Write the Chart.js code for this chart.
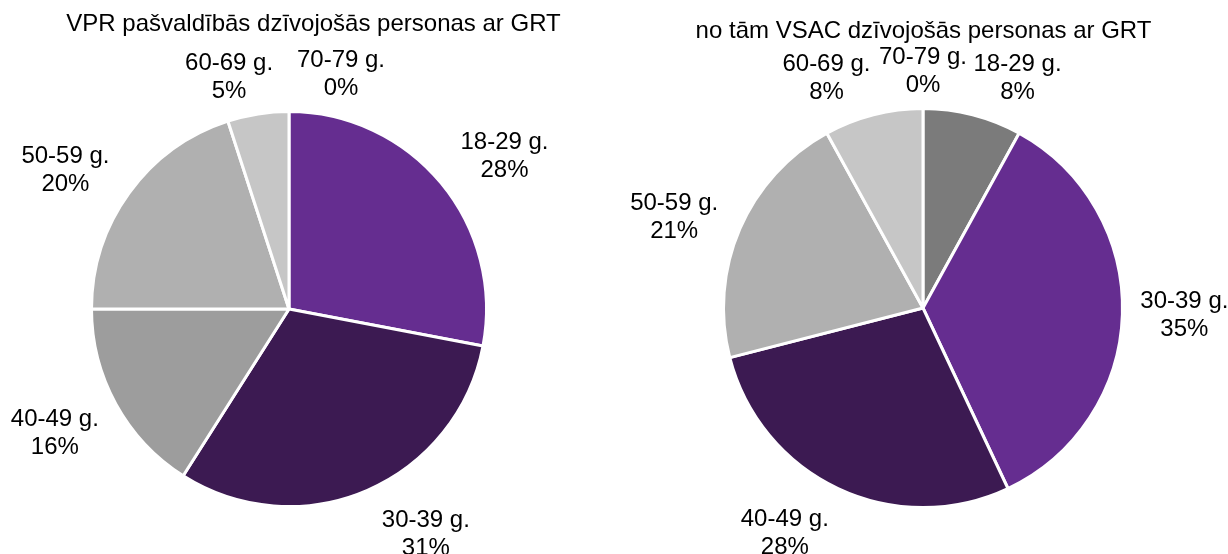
<!DOCTYPE html>
<html>
<head>
<meta charset="utf-8">
<title>GRT vecuma grupas</title>
<script src="https://cdn.jsdelivr.net/npm/chart.js@4"></script>
<style>
    body { margin: 0; background: #ffffff; }
    #wrap { position: relative; width: 1228px; height: 554px; }
    canvas { position: absolute; top: 0; }
    #chartLeft { left: 0; }
    #chartRight { left: 614px; }
</style>
</head>
<body>
<div id="wrap">
    <canvas id="chartLeft" width="614" height="554"></canvas>
    <canvas id="chartRight" width="614" height="554"></canvas>
</div>
<script>
// Age groups (categories)
const ageGroups = ["18-29 g.", "30-39 g.", "40-49 g.", "50-59 g.", "60-69 g.", "70-79 g."];

// Shares in percent
const vprShares = [28, 31, 16, 20, 5, 0];
const vsacShares = [8, 35, 28, 21, 8, 0];

// Chart titles
const vprTitle = "VPR pašvaldībās dzīvojošās personas ar GRT";
const vsacTitle = "no tām VSAC dzīvojošās personas ar GRT";

// Slice colours
const purple = "#652D90";
const darkPurple = "#3C1A52";
const vprColors = [purple, darkPurple, "#9D9D9D", "#B0B0B0", "#C6C6C6", "#D9D9D9"];
const vsacColors = ["#7B7B7B", purple, darkPurple, "#B0B0B0", "#C6C6C6", "#D9D9D9"];

// Manual label nudges (like moved data labels in the original)
const vprNudges = [[14, 12], [33, -17], [-5, -4], [-12, 13], [-19, 25], [52, 25]];
const vsacNudges = [[29, 24], [-2, -3], [-26, -15], [-7, 12], [-31, 24], [0, 25]];

const FONT = "'Liberation Sans', Arial, sans-serif";

// Plugin that draws the title and the outside labels (name + percent)
const outsideLabels = {
    id: "outsideLabels",
    afterDraw(chart, args, opts) {
        const ctx = chart.ctx;
        ctx.save();
        ctx.fillStyle = "#000000";
        ctx.textAlign = "center";
        ctx.textBaseline = "alphabetic";

        // Title
        ctx.font = "24px " + FONT;
        ctx.fillText(opts.title, opts.titleX, opts.titleY);

        // Labels
        const meta = chart.getDatasetMeta(0);
        const values = chart.data.datasets[0].data;
        meta.data.forEach((arc, i) => {
            const p = arc.getProps(["x", "y", "startAngle", "endAngle", "outerRadius"], true);
            const mid = (p.startAngle + p.endAngle) / 2;
            const dist = p.outerRadius + opts.gap;
            const cx = p.x + Math.cos(mid) * dist + opts.nudges[i][0];
            const cy = p.y + Math.sin(mid) * dist + opts.nudges[i][1];
            ctx.fillText(chart.data.labels[i], cx, cy - 14 + 8.6);
            ctx.fillText(values[i] + "%", cx, cy + 14 + 8.6);
        });
        ctx.restore();
    }
};

// Function to render one pie
function renderPie(canvasId, values, colors, title, titleX, titleY, nudges, padding) {
    return new Chart(document.getElementById(canvasId), {
        type: "pie",
        data: {
            labels: ageGroups,
            datasets: [{
                data: values,
                backgroundColor: colors,
                borderColor: "#ffffff",
                borderWidth: 3
            }]
        },
        options: {
            responsive: false,
            animation: false,
            devicePixelRatio: 1,
            layout: { padding: padding },
            plugins: {
                legend: { display: false },
                tooltip: { enabled: false },
                outsideLabels: {
                    title: title,
                    titleX: titleX,
                    titleY: titleY,
                    gap: 64,
                    nudges: nudges
                }
            }
        },
        plugins: [outsideLabels]
    });
}

renderPie("chartLeft", vprShares, vprColors, vprTitle, 313.5, 31, vprNudges,
    { left: 90, right: 126, top: 110, bottom: 46 });
renderPie("chartRight", vsacShares, vsacColors, vsacTitle, 309.5, 38, vsacNudges,
    { left: 108, right: 104, top: 107, bottom: 45 });
</script>
</body>
</html>
